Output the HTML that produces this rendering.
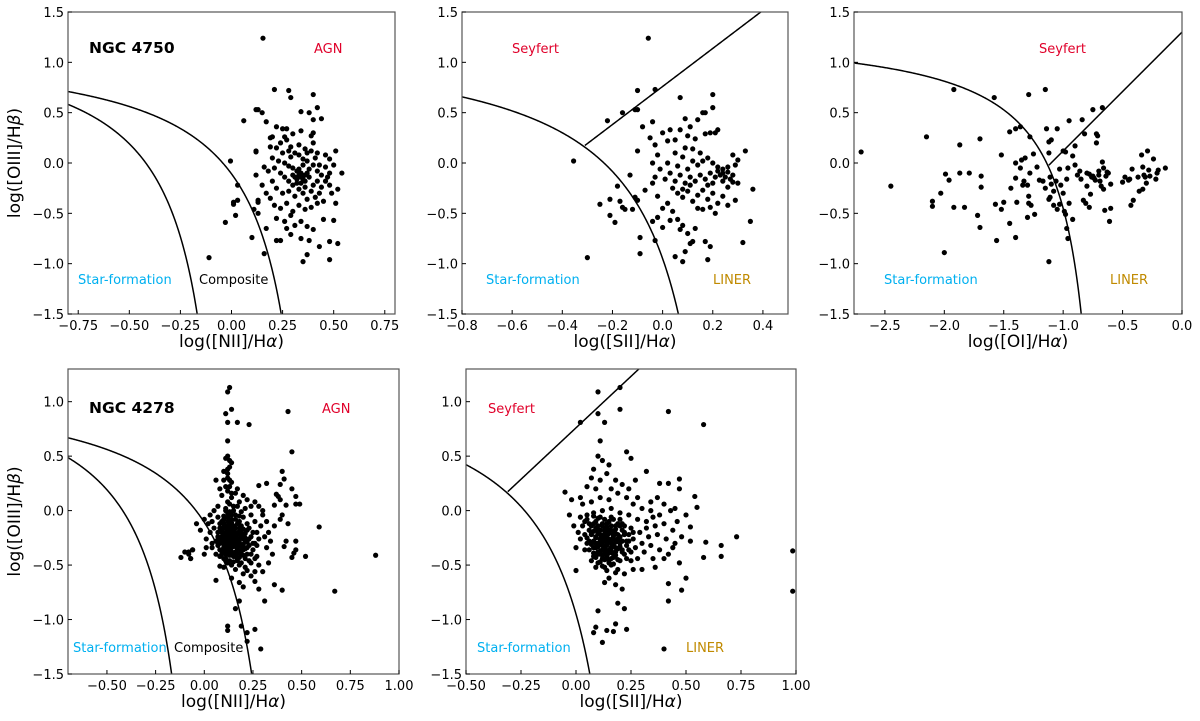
<!DOCTYPE html>
<html><head><meta charset="utf-8"><style>
html,body{margin:0;padding:0;background:#fff;overflow:hidden;width:1200px;height:721px;}
svg{display:block;}
svg text{font-family:"DejaVu Sans","Liberation Sans",sans-serif;}
</style></head><body>
<svg id="fig" width="1200" height="721" viewBox="0 0 1200 721" xmlns="http://www.w3.org/2000/svg"></svg>
<script>
// ---- data arrays ----
const p1Points=[[0.154,1.24],[0.21,0.73],[0.28,0.72],[0.29,0.65],[0.40,0.68],[0.42,0.55],[0.12,0.53],[0.13,0.53],[0.15,0.50],[0.06,0.42],[0.17,0.41],[0.34,0.51],[0.38,0.50],[0.40,0.43],[0.44,0.44],[0.22,0.36],[0.25,0.34],[0.27,0.34],[0.34,0.32],[0.40,0.30],[0.39,0.27],[0.19,0.25],[0.20,0.26],[0.30,0.29],[0.26,0.26],[0.27,0.23],[0.24,0.20],[0.40,0.20],[0.12,0.12],[0.12,0.11],[0.19,0.16],[0.22,0.15],[0.29,0.16],[0.33,0.08],[0.37,0.10],[0.51,0.12],[0.46,0.08],[0.48,0.04],[-0.005,0.02],[0.03,-0.22],[0.03,-0.37],[0.01,-0.39],[0.01,-0.41],[0.02,-0.52],[-0.03,-0.59],[-0.11,-0.94],[0.10,-0.74],[0.16,-0.90],[0.17,-0.65],[0.13,-0.50],[0.11,-0.46],[0.13,-0.39],[0.13,-0.37],[0.12,-0.12],[0.16,-0.04],[0.35,-0.98],[0.37,-0.91],[0.48,-0.96],[0.43,-0.83],[0.48,-0.78],[0.52,-0.80],[0.22,-0.77],[0.24,-0.77],[0.29,-0.71],[0.34,-0.75],[0.38,-0.77],[0.40,-0.66],[0.45,-0.56],[0.50,-0.57],[0.51,-0.40],[0.52,-0.26],[0.54,-0.10],[0.20,0.05],[0.23,0.02],[0.26,0.00],[0.28,-0.03],[0.30,-0.05],[0.32,-0.08],[0.34,-0.10],[0.36,-0.12],[0.38,-0.06],[0.40,-0.02],[0.42,-0.08],[0.44,-0.12],[0.46,-0.04],[0.48,-0.10],[0.50,-0.02],[0.24,-0.10],[0.26,-0.14],[0.28,-0.18],[0.30,-0.12],[0.32,-0.16],[0.34,-0.20],[0.36,-0.18],[0.38,-0.14],[0.40,-0.22],[0.42,-0.18],[0.44,-0.24],[0.46,-0.18],[0.48,-0.22],[0.22,-0.25],[0.25,-0.30],[0.28,-0.28],[0.31,-0.33],[0.33,-0.26],[0.35,-0.30],[0.37,-0.36],[0.39,-0.28],[0.41,-0.34],[0.43,-0.30],[0.19,-0.35],[0.21,-0.42],[0.24,-0.45],[0.27,-0.40],[0.30,-0.48],[0.33,-0.42],[0.36,-0.46],[0.39,-0.44],[0.42,-0.40],[0.45,-0.38],[0.20,-0.18],[0.22,-0.55],[0.26,-0.58],[0.29,-0.52],[0.31,-0.62],[0.34,-0.58],[0.37,-0.63],[0.27,-0.65],[0.33,-0.06],[0.35,-0.02],[0.29,0.06],[0.31,0.10],[0.35,0.04],[0.37,0.02],[0.41,0.05],[0.43,-0.02],[0.47,-0.14],[0.49,-0.30],[0.18,-0.08],[0.21,-0.05],[0.15,-0.22],[0.17,-0.30],[0.25,0.10],[0.28,0.12],[0.33,0.18],[0.36,0.14],[0.39,0.12],[0.42,0.10],[0.31,-0.14],[0.33,-0.12],[0.35,-0.16],[0.37,-0.10],[0.32,-0.20],[0.36,-0.24],[0.30,-0.22],[0.34,-0.14]];
const p2Points=[[-0.057,1.24],[-0.10,0.72],[-0.03,0.73],[-0.16,0.50],[-0.11,0.53],[-0.10,0.53],[-0.22,0.42],[-0.08,0.36],[-0.04,0.41],[-0.355,0.02],[-0.30,-0.94],[0.07,0.65],[0.20,0.68],[0.20,0.55],[0.16,0.50],[0.17,0.50],[0.09,0.44],[0.14,0.43],[0.22,0.33],[0.19,0.30],[0.33,0.12],[0.28,0.08],[0.36,-0.26],[0.35,-0.58],[0.32,-0.79],[0.18,-0.96],[0.08,-0.98],[0.05,-0.93],[-0.09,-0.74],[-0.09,-0.90],[-0.03,-0.77],[-0.25,-0.41],[-0.21,-0.36],[-0.21,-0.52],[-0.19,-0.59],[-0.17,-0.38],[-0.16,-0.44],[-0.15,-0.46],[-0.12,-0.46],[-0.18,-0.23],[-0.13,-0.12],[-0.11,-0.34],[-0.10,-0.37],[-0.07,-0.27],[-0.10,0.12],[0.26,-0.42],[0.29,-0.37],[0.30,-0.20],[0.30,0.03],[-0.05,0.25],[-0.03,0.18],[-0.02,0.08],[0.00,0.30],[0.02,0.22],[0.03,0.33],[0.05,0.23],[0.07,0.33],[0.10,0.27],[0.09,0.15],[0.12,0.14],[0.15,0.10],[0.18,0.05],[0.20,0.00],[0.22,-0.04],[0.24,-0.06],[0.26,-0.09],[0.28,-0.12],[0.29,-0.02],[0.23,-0.12],[0.21,-0.14],[0.19,-0.10],[0.17,-0.16],[0.15,-0.12],[0.13,-0.18],[0.11,-0.14],[0.09,-0.20],[0.07,-0.12],[0.05,-0.18],[0.03,-0.10],[0.01,-0.16],[-0.01,-0.06],[-0.03,-0.14],[-0.04,0.00],[0.02,0.00],[0.06,-0.03],[0.10,-0.06],[0.14,-0.02],[0.16,0.02],[0.12,0.02],[0.08,0.06],[0.04,-0.25],[0.06,-0.30],[0.08,-0.34],[0.10,-0.28],[0.12,-0.38],[0.14,-0.32],[0.16,-0.27],[0.18,-0.36],[0.20,-0.30],[0.22,-0.40],[0.24,-0.33],[0.26,-0.24],[0.28,-0.19],[0.02,-0.40],[0.00,-0.45],[-0.02,-0.54],[-0.04,-0.58],[0.00,-0.64],[0.04,-0.48],[0.06,-0.56],[0.08,-0.62],[0.10,-0.70],[0.12,-0.78],[0.11,-0.80],[0.09,-0.88],[0.07,-0.66],[0.14,-0.45],[0.16,-0.46],[0.19,-0.44],[0.21,-0.50],[0.17,-0.78],[0.19,-0.83],[0.13,-0.65],[0.03,-0.57],[-0.02,-0.33],[-0.04,-0.20],[0.05,0.10],[0.11,0.36],[0.13,0.24],[0.17,0.29],[0.21,0.30],[0.24,-0.18],[0.25,-0.14],[0.22,-0.08],[0.24,-0.10],[0.26,-0.04],[0.27,-0.16],[0.20,-0.20],[0.18,-0.22],[0.11,-0.22],[0.08,-0.26]];
const p3Points=[[-2.70,0.11],[-2.45,-0.23],[-2.15,0.26],[-1.92,0.73],[-1.87,0.18],[-2.00,-0.89],[-2.03,-0.30],[-2.10,-0.38],[-2.10,-0.43],[-1.99,-0.11],[-1.96,-0.17],[-1.92,-0.44],[-1.87,-0.10],[-1.83,-0.44],[-1.79,-0.10],[-1.70,0.24],[-1.69,-0.13],[-1.69,-0.24],[-1.72,-0.52],[-1.70,-0.64],[-1.58,0.65],[-1.52,0.08],[-1.57,-0.41],[-1.50,-0.39],[-1.52,-0.46],[-1.56,-0.77],[-1.40,-0.74],[-1.45,0.31],[-1.40,0.34],[-1.36,0.36],[-1.44,-0.25],[-1.39,-0.39],[-1.40,0.00],[-1.29,0.68],[-1.15,0.73],[-1.12,-0.98],[-0.75,0.53],[-0.67,0.55],[-0.84,0.43],[-0.95,0.42],[-1.05,0.34],[-1.35,0.03],[-1.32,0.05],[-1.28,0.26],[-1.25,0.09],[-1.22,-0.04],[-1.36,-0.05],[-1.33,-0.18],[-1.30,-0.22],[-1.28,-0.10],[-1.24,-0.51],[-1.30,-0.54],[-1.29,-0.40],[-1.27,-0.42],[-1.29,-0.33],[-1.20,-0.17],[-1.17,-0.18],[-1.15,-0.25],[-1.14,0.34],[-1.12,0.21],[-1.10,0.23],[-1.12,0.10],[-1.11,-0.14],[-1.10,-0.21],[-1.08,-0.28],[-1.11,-0.34],[-1.12,-0.36],[-1.08,-0.42],[-1.05,-0.46],[-1.03,-0.41],[-1.06,-0.18],[-1.02,-0.22],[-1.00,-0.30],[-0.98,0.11],[-0.96,-0.05],[-0.97,-0.16],[-0.95,-0.40],[-0.99,-0.48],[-0.98,-0.51],[-0.97,-0.65],[-0.96,-0.75],[-0.92,-0.56],[-0.92,0.07],[-0.90,-0.02],[-0.88,-0.12],[-0.86,-0.08],[-0.85,-0.16],[-0.83,-0.37],[-0.81,-0.40],[-0.82,0.29],[-0.80,-0.10],[-0.80,-0.23],[-0.78,-0.44],[-0.77,-0.31],[-0.76,-0.14],[-0.74,-0.15],[-0.72,0.29],[-0.71,0.27],[-0.72,0.20],[-0.70,-0.08],[-0.69,-0.18],[-0.68,-0.23],[-0.67,0.01],[-0.66,-0.05],[-0.66,-0.26],[-0.65,-0.47],[-0.64,-0.13],[-0.62,-0.10],[-0.61,-0.58],[-0.60,-0.45],[-0.60,-0.21],[-0.63,-0.09],[-0.70,-0.12],[-0.73,-0.17],[-0.75,-0.13],[-0.78,-0.11],[-0.50,-0.19],[-0.48,-0.14],[-0.45,-0.17],[-0.43,-0.42],[-0.41,-0.37],[-0.36,-0.28],[-0.37,-0.14],[-0.42,-0.06],[-0.34,0.08],[-0.29,0.12],[-0.24,0.04],[-0.14,-0.05],[-0.33,-0.04],[-0.32,-0.12],[-0.30,-0.20],[-0.28,-0.07],[-0.27,-0.13],[-0.22,-0.16],[-0.20,-0.07],[-0.21,-0.10],[-0.33,-0.26],[-0.31,-0.14],[-0.44,-0.16],[-1.40,-0.15],[-1.34,-0.22],[-1.45,-0.60],[-1.03,-0.06],[-1.00,0.12],[-0.90,0.17]];
const p4Points=[[0.13,1.13],[0.12,1.09],[0.14,0.93],[0.11,0.89],[0.12,0.81],[0.17,0.81],[0.23,0.79],[0.12,0.64],[0.43,0.91],[0.45,0.54],[0.59,-0.15],[0.88,-0.41],[0.67,-0.74],[-0.12,-0.43],[-0.08,-0.38],[-0.07,-0.44],[-0.06,-0.36],[0.29,-1.27],[0.26,-1.09],[0.22,-1.20],[0.22,-1.12],[0.19,-1.06],[0.12,-1.06],[0.12,-1.10],[0.16,-0.90],[0.18,-0.83],[0.31,-0.83],[0.40,-0.73],[0.36,-0.68],[0.52,-0.42],[0.46,-0.39],[0.47,-0.36],[0.47,-0.28],[0.42,-0.28],[0.41,-0.33],[0.45,-0.43],[0.49,0.06],[0.47,0.13],[0.47,0.06],[0.45,0.20],[0.40,0.36],[0.41,0.29],[0.39,0.24],[0.37,0.15],[0.38,0.13],[0.39,0.10],[0.42,0.05],[0.40,-0.04],[0.39,-0.08],[0.43,-0.12],[0.36,0.05],[0.32,0.25],[0.28,0.23],[0.01,-0.34],[0.04,-0.34],[0.06,-0.64],[0.08,-0.51],[0.10,-0.05],[0.12,-0.02],[0.14,-0.08],[0.16,-0.04],[0.18,-0.10],[0.20,-0.06],[0.22,-0.12],[0.08,-0.12],[0.10,-0.15],[0.12,-0.18],[0.14,-0.14],[0.16,-0.20],[0.18,-0.16],[0.20,-0.22],[0.22,-0.18],[0.24,-0.24],[0.07,-0.20],[0.09,-0.24],[0.11,-0.28],[0.13,-0.22],[0.15,-0.26],[0.17,-0.30],[0.19,-0.24],[0.21,-0.28],[0.23,-0.32],[0.08,-0.30],[0.10,-0.34],[0.12,-0.30],[0.14,-0.34],[0.16,-0.38],[0.18,-0.32],[0.20,-0.36],[0.22,-0.40],[0.09,-0.40],[0.11,-0.44],[0.13,-0.38],[0.15,-0.42],[0.17,-0.46],[0.19,-0.40],[0.21,-0.44],[0.12,-0.48],[0.14,-0.50],[0.16,-0.54],[0.18,-0.50],[0.10,-0.52],[0.06,-0.28],[0.05,-0.16],[0.07,-0.06],[0.11,0.02],[0.13,0.06],[0.15,0.00],[0.17,0.04],[0.19,-0.01],[0.21,0.02],[0.24,-0.04],[0.26,-0.10],[0.27,-0.20],[0.26,-0.30],[0.28,-0.26],[0.25,-0.36],[0.27,-0.42],[0.24,-0.48],[0.12,-0.10],[0.14,-0.26],[0.13,-0.30],[0.12,-0.22],[0.11,-0.20],[0.13,-0.14],[0.15,-0.18],[0.14,-0.22],[0.12,-0.26],[0.13,-0.34],[0.15,-0.30],[0.11,-0.36],[0.10,-0.26],[0.09,-0.18],[0.16,-0.28],[0.14,-0.18],[0.12,-0.40],[0.10,-0.44],[0.08,-0.36],[0.06,-0.40],[0.04,-0.30],[0.03,-0.20],[0.02,-0.12],[0.00,-0.08],[0.01,-0.26],[0.29,-0.14],[0.30,-0.04],[0.31,-0.24],[0.32,-0.34],[0.28,-0.50],[0.30,-0.56],[0.22,-0.55],[0.20,-0.58],[0.26,-0.56],[0.24,0.04],[0.22,0.10],[0.18,0.08],[0.14,0.12],[0.12,0.18],[0.14,0.26],[0.12,0.30],[0.10,0.36],[0.12,0.38],[0.14,0.44],[0.11,0.48],[0.13,0.40],[0.10,0.28],[0.13,0.22],[0.16,0.16],[0.08,0.20],[0.06,0.28],[0.09,0.14],[0.07,0.04],[0.05,0.00],[0.04,-0.10],[0.03,-0.04],[0.17,0.20],[0.20,0.14],[0.26,0.08],[0.28,0.04],[0.30,0.00],[0.32,-0.10],[0.33,-0.20],[0.34,-0.28],[-0.04,-0.12],[-0.02,-0.18],[-0.06,-0.36],[-0.08,-0.40],[-0.10,-0.38],[-0.07,-0.44],[0.00,-0.40],[0.20,-0.70],[0.26,-0.65],[0.14,-0.62],[0.18,-0.66],[0.36,-0.14],[0.35,-0.40],[0.33,-0.48],[0.24,-0.60],[0.28,-0.72]];
const p4Core=[[0.09,-0.10],[0.10,-0.12],[0.11,-0.16],[0.12,-0.14],[0.13,-0.17],[0.14,-0.11],[0.15,-0.14],[0.16,-0.16],[0.17,-0.12],[0.18,-0.19],[0.19,-0.14],[0.20,-0.17],[0.21,-0.21],[0.09,-0.20],[0.10,-0.22],[0.11,-0.24],[0.12,-0.20],[0.13,-0.25],[0.14,-0.20],[0.15,-0.23],[0.16,-0.25],[0.17,-0.22],[0.18,-0.26],[0.19,-0.21],[0.20,-0.26],[0.21,-0.25],[0.22,-0.29],[0.08,-0.27],[0.09,-0.29],[0.10,-0.31],[0.11,-0.33],[0.12,-0.28],[0.13,-0.32],[0.14,-0.29],[0.15,-0.33],[0.16,-0.31],[0.17,-0.35],[0.18,-0.29],[0.19,-0.33],[0.20,-0.31],[0.21,-0.35],[0.09,-0.36],[0.10,-0.38],[0.11,-0.40],[0.12,-0.36],[0.13,-0.41],[0.14,-0.38],[0.15,-0.40],[0.16,-0.42],[0.17,-0.39],[0.18,-0.43],[0.19,-0.37],[0.20,-0.41],[0.11,-0.46],[0.13,-0.46],[0.15,-0.47],[0.17,-0.44],[0.10,-0.08],[0.12,-0.06],[0.14,-0.04],[0.16,-0.08],[0.18,-0.05],[0.11,0.00],[0.13,-0.01],[0.15,0.04],[0.12,0.08],[0.14,0.16],[0.11,0.22],[0.13,0.28],[0.12,0.34],[0.13,0.46],[0.12,0.50],[0.08,-0.16],[0.07,-0.24],[0.07,-0.32],[0.08,-0.42],[0.22,-0.34],[0.23,-0.26],[0.23,-0.16],[0.24,-0.40],[0.25,-0.30],[0.25,-0.20],[0.26,-0.44],[0.27,-0.32],[0.19,-0.48],[0.21,-0.52],[0.23,-0.46]];
const p5Points=[[0.10,1.09],[0.20,1.13],[0.20,0.93],[0.10,0.89],[0.13,0.81],[0.02,0.81],[0.11,0.64],[0.42,0.91],[0.58,0.79],[0.23,0.54],[0.25,0.48],[0.32,0.36],[0.985,-0.37],[0.985,-0.74],[0.73,-0.24],[0.66,-0.32],[0.66,-0.42],[0.59,-0.29],[0.58,-0.43],[0.40,-1.27],[0.12,-1.21],[0.08,-1.12],[0.09,-1.07],[0.14,-1.10],[0.17,-1.11],[0.18,-1.04],[0.23,-1.09],[0.10,-0.92],[0.22,-0.90],[0.19,-0.85],[0.42,-0.83],[0.48,-0.73],[0.42,-0.67],[0.50,-0.62],[0.00,-0.55],[-0.05,0.17],[-0.02,0.10],[0.02,0.12],[0.54,0.13],[0.55,0.03],[0.47,0.29],[0.47,0.20],[0.38,0.25],[0.42,0.25],[0.45,0.02],[0.50,-0.04],[0.52,-0.15],[0.52,-0.28],[0.08,0.38],[0.10,0.50],[0.12,0.46],[0.15,0.42],[0.07,0.30],[0.11,0.28],[0.14,0.34],[0.18,0.28],[0.21,0.24],[0.05,0.22],[0.09,0.20],[0.16,0.20],[0.19,0.16],[0.23,0.12],[0.03,0.06],[0.07,0.08],[0.11,0.12],[0.15,0.10],[0.26,0.06],[0.30,0.02],[0.34,0.00],[0.38,-0.04],[0.02,-0.06],[0.05,-0.04],[0.08,-0.02],[0.12,0.00],[0.16,0.02],[0.20,-0.02],[0.24,-0.04],[0.28,-0.08],[0.32,-0.10],[0.36,-0.14],[0.40,-0.12],[0.44,-0.18],[0.03,-0.14],[0.06,-0.12],[0.09,-0.10],[0.12,-0.14],[0.15,-0.10],[0.18,-0.14],[0.21,-0.12],[0.25,-0.16],[0.29,-0.20],[0.33,-0.24],[0.37,-0.22],[0.41,-0.26],[0.45,-0.30],[0.04,-0.22],[0.07,-0.20],[0.10,-0.18],[0.13,-0.22],[0.16,-0.18],[0.19,-0.22],[0.22,-0.20],[0.26,-0.26],[0.30,-0.30],[0.34,-0.32],[0.38,-0.36],[0.42,-0.40],[0.05,-0.30],[0.08,-0.28],[0.11,-0.26],[0.14,-0.30],[0.17,-0.26],[0.20,-0.30],[0.23,-0.28],[0.27,-0.34],[0.31,-0.38],[0.35,-0.44],[0.06,-0.36],[0.09,-0.34],[0.12,-0.32],[0.15,-0.36],[0.18,-0.34],[0.21,-0.38],[0.24,-0.36],[0.28,-0.44],[0.08,-0.42],[0.11,-0.40],[0.14,-0.44],[0.17,-0.40],[0.20,-0.46],[0.23,-0.44],[0.10,-0.48],[0.13,-0.52],[0.16,-0.50],[0.19,-0.54],[0.22,-0.58],[0.26,-0.54],[0.15,-0.62],[0.18,-0.68],[0.21,-0.72],[0.13,-0.66],[0.12,-0.24],[0.13,-0.28],[0.14,-0.20],[0.15,-0.26],[0.11,-0.22],[0.12,-0.36],[0.16,-0.30],[0.14,-0.38],[0.10,-0.30],[0.17,-0.22],[0.13,-0.16],[0.11,-0.06],[0.09,-0.24],[0.16,-0.44],[0.18,-0.38],[0.12,-0.44],[0.15,-0.48],[0.19,-0.28],[0.10,-0.38],[0.14,-0.12],[0.17,-0.08],[0.20,-0.08],[0.22,-0.14],[0.24,-0.22],[0.07,-0.14],[0.04,-0.10],[0.01,-0.20],[-0.01,-0.14],[-0.03,-0.04],[0.00,-0.34],[0.02,-0.26],[0.04,-0.36],[0.07,-0.46],[0.09,-0.52],[0.34,0.08],[0.37,0.12],[0.40,0.06],[0.43,0.00],[0.46,-0.10],[0.48,-0.24],[0.44,-0.34],[0.47,-0.48],[0.40,-0.44],[0.36,-0.52],[0.30,-0.54],[0.25,-0.46],[0.32,-0.16],[0.35,-0.06],[0.28,0.12],[0.24,0.20],[0.27,0.28]];
const p5Core=[[0.08,-0.12],[0.09,-0.16],[0.10,-0.14],[0.11,-0.18],[0.12,-0.12],[0.13,-0.19],[0.14,-0.15],[0.15,-0.18],[0.16,-0.14],[0.17,-0.19],[0.18,-0.17],[0.19,-0.12],[0.07,-0.22],[0.08,-0.19],[0.09,-0.25],[0.10,-0.21],[0.11,-0.27],[0.12,-0.23],[0.13,-0.26],[0.14,-0.24],[0.15,-0.21],[0.16,-0.27],[0.17,-0.24],[0.18,-0.21],[0.19,-0.26],[0.20,-0.24],[0.21,-0.28],[0.06,-0.28],[0.07,-0.31],[0.08,-0.34],[0.09,-0.30],[0.10,-0.33],[0.11,-0.31],[0.12,-0.29],[0.13,-0.35],[0.14,-0.32],[0.15,-0.29],[0.16,-0.34],[0.17,-0.31],[0.18,-0.29],[0.19,-0.35],[0.20,-0.33],[0.21,-0.36],[0.08,-0.39],[0.09,-0.43],[0.10,-0.40],[0.11,-0.37],[0.12,-0.41],[0.13,-0.39],[0.14,-0.42],[0.15,-0.39],[0.16,-0.37],[0.17,-0.43],[0.18,-0.41],[0.19,-0.45],[0.11,-0.47],[0.13,-0.45],[0.15,-0.46],[0.17,-0.49],[0.10,-0.07],[0.13,-0.08],[0.16,-0.06],[0.06,-0.18],[0.05,-0.25],[0.22,-0.22],[0.23,-0.32],[0.24,-0.28],[0.22,-0.40],[0.25,-0.38],[0.26,-0.20],[0.12,-0.51],[0.14,-0.55],[0.18,-0.57],[0.05,-0.08],[0.08,-0.05],[0.20,-0.14],[0.21,-0.18]];
const p1XTicks=[-0.75,-0.5,-0.25,0,0.25,0.5,0.75];
const p1XLabels=["\u22120.75","\u22120.50","\u22120.25","0.00","0.25","0.50","0.75"];
const p2XTicks=[-0.8,-0.6,-0.4,-0.2,0,0.2,0.4];
const p2XLabels=["\u22120.8","\u22120.6","\u22120.4","\u22120.2","0.0","0.2","0.4"];
const p3XTicks=[-2.5,-2,-1.5,-1,-0.5,0];
const p3XLabels=["\u22122.5","\u22122.0","\u22121.5","\u22121.0","\u22120.5","0.0"];
const p4XTicks=[-0.5,-0.25,0,0.25,0.5,0.75,1.0];
const p4XLabels=["\u22120.50","\u22120.25","0.00","0.25","0.50","0.75","1.00"];
const p5XTicks=[-0.5,-0.25,0,0.25,0.5,0.75,1.0];
const p5XLabels=["\u22120.50","\u22120.25","0.00","0.25","0.50","0.75","1.00"];
const yTicksTop=[-1.5,-1,-0.5,0,0.5,1,1.5];
const yLabelsTop=["\u22121.5","\u22121.0","\u22120.5","0.0","0.5","1.0","1.5"];
const yTicksBot=[-1.5,-1,-0.5,0,0.5,1];
const yLabelsBot=["\u22121.5","\u22121.0","\u22120.5","0.0","0.5","1.0"];

const NS="http://www.w3.org/2000/svg";
const svg=document.getElementById('fig');
function mk(tag,attrs,parent){const e=document.createElementNS(NS,tag);for(const k in attrs)e.setAttribute(k,attrs[k]);(parent||svg).appendChild(e);return e;}

function panel(cfg){
  const g=mk('g',{});
  
  
  const sx=v=>cfg.L+(v-cfg.x0)/(cfg.x1-cfg.x0)*(cfg.R-cfg.L);
  const sy=v=>cfg.B-(v-cfg.y0)/(cfg.y1-cfg.y0)*(cfg.B-cfg.T);
  const cid='clip'+cfg.id;
  const cp=mk('clipPath',{id:cid},g);
  mk('rect',{x:cfg.L,y:cfg.T,width:cfg.R-cfg.L,height:cfg.B-cfg.T},cp);
  cfg.curves.forEach(c=>{
    let d='';let first=true;
    for(let i=0;i<=400;i++){const x=c.xa+(c.xb-c.xa)*i/400;const y=c.f(x);if(!isFinite(y))continue;d+=(first?'M':'L')+sx(x).toFixed(2)+' '+sy(Math.max(y,cfg.y0-1)).toFixed(2);first=false;}
    const p=mk('path',{d:d,fill:'none',stroke:'#000','stroke-width':1.5,'clip-path':'url(#'+cid+')'},g);
    
    
  });
  cfg.pts.forEach(pt=>{
    const c=mk('circle',{cx:sx(pt[0]).toFixed(2),cy:sy(pt[1]).toFixed(2),r:2.6,fill:'#000','clip-path':'url(#'+cid+')'},g);
    
    
  });
  const fr=mk('rect',{x:cfg.L,y:cfg.T,width:cfg.R-cfg.L,height:cfg.B-cfg.T,fill:'none',stroke:'#555','stroke-width':1.2},g);
  
  
  cfg.xt.forEach((v,i)=>{
    const X=sx(v);
    mk('line',{x1:X,x2:X,y1:cfg.B,y2:cfg.B-4,stroke:'#000','stroke-width':1},g);
    const t=mk('text',{x:X,y:cfg.B+16,'text-anchor':'middle','font-size':13},g);
    t.textContent=cfg.xl[i];
    
    
  });
  cfg.yt.forEach((v,i)=>{
    const Y=sy(v);
    mk('line',{x1:cfg.L,x2:cfg.L+4,y1:Y,y2:Y,stroke:'#000','stroke-width':1},g);
    const t=mk('text',{x:cfg.L-4,y:Y+5,'text-anchor':'end','font-size':13},g);
    t.textContent=cfg.yl[i];
    
    
  });
  const xl=mk('text',{x:(cfg.L+cfg.R)/2,y:cfg.B+33,'text-anchor':'middle','font-size':17},g);
  xl.innerHTML=cfg.xlab;
  
  
  if(cfg.ylab){
    const cy=(cfg.T+cfg.B)/2;
    const yl=mk('text',{x:20,y:cy,'text-anchor':'middle','font-size':17,transform:'rotate(-90 20 '+cy+')'},g);
    yl.innerHTML='log([OIII]/H<tspan font-style="italic">β</tspan>)';
    
    
  }
  cfg.labels.forEach(l=>{
    const t=mk('text',{x:l.x,y:l.y,fill:l.c,'font-size':l.s||13,'font-weight':l.b?'bold':'normal'},g);
    t.textContent=l.t;
    
    
  });
}
const kew=x=>0.61/(x-0.47)+1.19, kau=x=>0.61/(x-0.05)+1.3;
const kS=x=>0.72/(x-0.32)+1.30, sS=x=>1.89*x+0.76;
const kO=x=>0.73/(x+0.59)+1.33, sO=x=>1.18*x+1.30;
const SF='#00b0f0', RED='#e0002a', LIN='#c08a00';
const nii='log([NII]/H<tspan font-style="italic">α</tspan>)';
const sii='log([SII]/H<tspan font-style="italic">α</tspan>)';
const oi='log([OI]/H<tspan font-style="italic">α</tspan>)';

panel({id:1,name:'panel-ngc4750-nii',L:68,R:395,T:12,B:314,x0:-0.8,x1:0.8,y0:-1.5,y1:1.5,pts:p1Points,
 curves:[{name:'kauffmann-line',xa:-0.8,xb:0.049,f:kau},{name:'kewley-line',xa:-0.8,xb:0.469,f:kew}],
 xt:p1XTicks,xl:p1XLabels,yt:yTicksTop,yl:yLabelsTop,xlab:nii,ylab:true,
 labels:[{t:'NGC 4750',x:89,y:53,c:'#000',s:15.5,b:1,n:'galaxy-label'},{t:'AGN',x:314,y:53,c:RED,n:'agn-label'},{t:'Star-formation',x:78,y:284,c:SF,n:'star-formation-label'},{t:'Composite',x:199,y:284,c:'#000',n:'composite-label'}]});
panel({id:2,name:'panel-ngc4750-sii',L:462,R:788,T:12,B:314,x0:-0.8,x1:0.5,y0:-1.5,y1:1.5,pts:p2Points,
 curves:[{name:'kewley-line',xa:-0.8,xb:0.319,f:kS},{name:'seyfert-liner-line',xa:-0.31,xb:0.5,f:sS}],
 xt:p2XTicks,xl:p2XLabels,yt:yTicksTop,yl:yLabelsTop,xlab:sii,ylab:false,
 labels:[{t:'Seyfert',x:512,y:53,c:RED,n:'seyfert-label'},{t:'Star-formation',x:486,y:284,c:SF,n:'star-formation-label'},{t:'LINER',x:713,y:284,c:LIN,n:'liner-label'}]});
panel({id:3,name:'panel-ngc4750-oi',L:854,R:1182,T:12,B:314,x0:-2.76,x1:0,y0:-1.5,y1:1.5,pts:p3Points,
 curves:[{name:'kewley-line',xa:-2.76,xb:-0.591,f:kO},{name:'seyfert-liner-line',xa:-1.12,xb:0,f:sO}],
 xt:p3XTicks,xl:p3XLabels,yt:yTicksTop,yl:yLabelsTop,xlab:oi,ylab:false,
 labels:[{t:'Seyfert',x:1039,y:53,c:RED,n:'seyfert-label'},{t:'Star-formation',x:884,y:284,c:SF,n:'star-formation-label'},{t:'LINER',x:1110,y:284,c:LIN,n:'liner-label'}]});
panel({id:4,name:'panel-ngc4278-nii',L:68,R:399,T:369,B:674,x0:-0.7,x1:1.0,y0:-1.5,y1:1.3,pts:p4Points.concat(p4Core),
 curves:[{name:'kauffmann-line',xa:-0.7,xb:0.049,f:kau},{name:'kewley-line',xa:-0.7,xb:0.469,f:kew}],
 xt:p4XTicks,xl:p4XLabels,yt:yTicksBot,yl:yLabelsBot,xlab:nii,ylab:true,
 labels:[{t:'NGC 4278',x:89,y:413,c:'#000',s:15.5,b:1,n:'galaxy-label'},{t:'AGN',x:322,y:413,c:RED,n:'agn-label'},{t:'Star-formation',x:73,y:652,c:SF,n:'star-formation-label'},{t:'Composite',x:174,y:652,c:'#000',n:'composite-label'}]});
panel({id:5,name:'panel-ngc4278-sii',L:466,R:796,T:369,B:674,x0:-0.5,x1:1.0,y0:-1.5,y1:1.3,pts:p5Points.concat(p5Core),
 curves:[{name:'kewley-line',xa:-0.5,xb:0.319,f:kS},{name:'seyfert-liner-line',xa:-0.31,xb:1.0,f:sS}],
 xt:p5XTicks,xl:p5XLabels,yt:yTicksBot,yl:yLabelsBot,xlab:sii,ylab:false,
 labels:[{t:'Seyfert',x:488,y:413,c:RED,n:'seyfert-label'},{t:'Star-formation',x:477,y:652,c:SF,n:'star-formation-label'},{t:'LINER',x:686,y:652,c:LIN,n:'liner-label'}]});
</script>
</body></html>
